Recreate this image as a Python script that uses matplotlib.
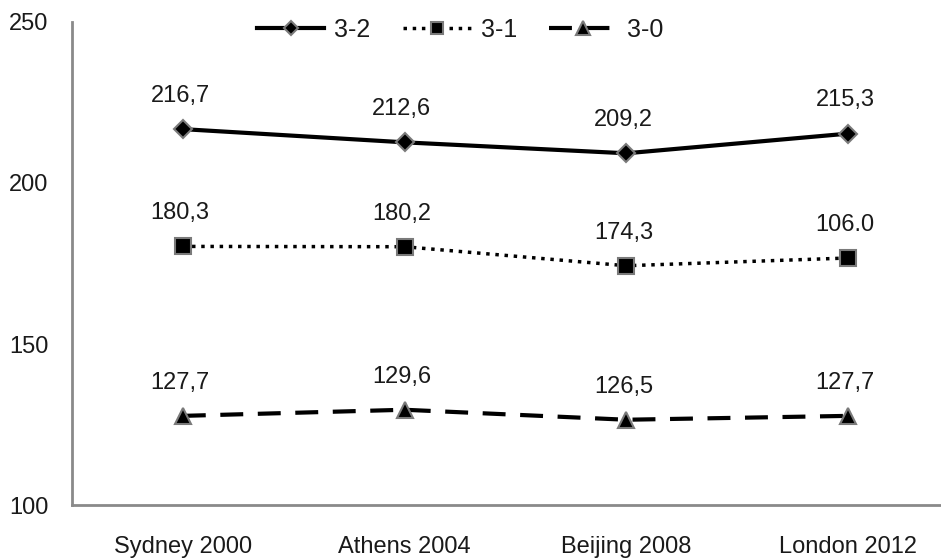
import numpy as np
import matplotlib.pyplot as plt

plt.rcParams['font.family'] = ['Liberation Sans', 'DejaVu Sans']

# Data
games = ['Sydney 2000', 'Athens 2004', 'Beijing 2008', 'London 2012']
score_32 = [216.7, 212.6, 209.2, 215.3]
score_31 = [180.3, 180.2, 174.3, 176.7]
score_30 = [127.7, 129.6, 126.5, 127.7]
# labels as printed on the original (London 3-1 label reads 106.0)
labels_32 = ['216,7', '212,6', '209,2', '215,3']
labels_31 = ['180,3', '180,2', '174,3', '106.0']
labels_30 = ['127,7', '129,6', '126,5', '127,7']

x = np.arange(len(games))
txt = '#1a1a1a'

fig = plt.figure(figsize=(9.41, 5.6), dpi=100)
ax = fig.add_axes([0.0765, 0.098, 0.9235, 0.863])

common = dict(color='black', markerfacecolor='black', markeredgecolor='#7a7a7a',
              markeredgewidth=1.5)
l1, = ax.plot(x, score_32, '-', lw=3, marker='D', markersize=9, label='3-2', **common)
l2, = ax.plot(x, score_31, ':', lw=2.5, marker='s', markersize=11, label='3-1', **common)
l3, = ax.plot(x, score_30, '--', lw=3, marker='^', markersize=12, label='3-0',
              dashes=(5.5, 3.5), **common)

for vals, labs in [(score_32, labels_32), (score_31, labels_31), (score_30, labels_30)]:
    for xi, v, s in zip(x, vals, labs):
        ax.annotate(s, (xi, v), xytext=(-2, 16), textcoords='offset points',
                    ha='center', va='bottom', fontsize=17, color=txt)

ax.set_xlim(-0.5, 3.42)
ax.set_ylim(100, 250)
ax.set_yticks([100, 150, 200, 250])
ax.set_xticks(x)
ax.set_xticklabels(games)
ax.tick_params(axis='both', length=0, labelsize=17, labelcolor=txt)
ax.tick_params(axis='y', pad=17)
ax.tick_params(axis='x', pad=22)

for side in ['top', 'right']:
    ax.spines[side].set_visible(False)
for side in ['left', 'bottom']:
    ax.spines[side].set_color('#8a8a8a')
    ax.spines[side].set_linewidth(2)

fig.legend(handles=[l1, l2, l3], loc='center', bbox_to_anchor=(0.489, 0.946),
           ncol=3, frameon=False, fontsize=18, handlelength=2.7, markerscale=0.8,
           columnspacing=1.3, handletextpad=0.4, labelcolor=txt)

fig.savefig('out.png', dpi=100)
